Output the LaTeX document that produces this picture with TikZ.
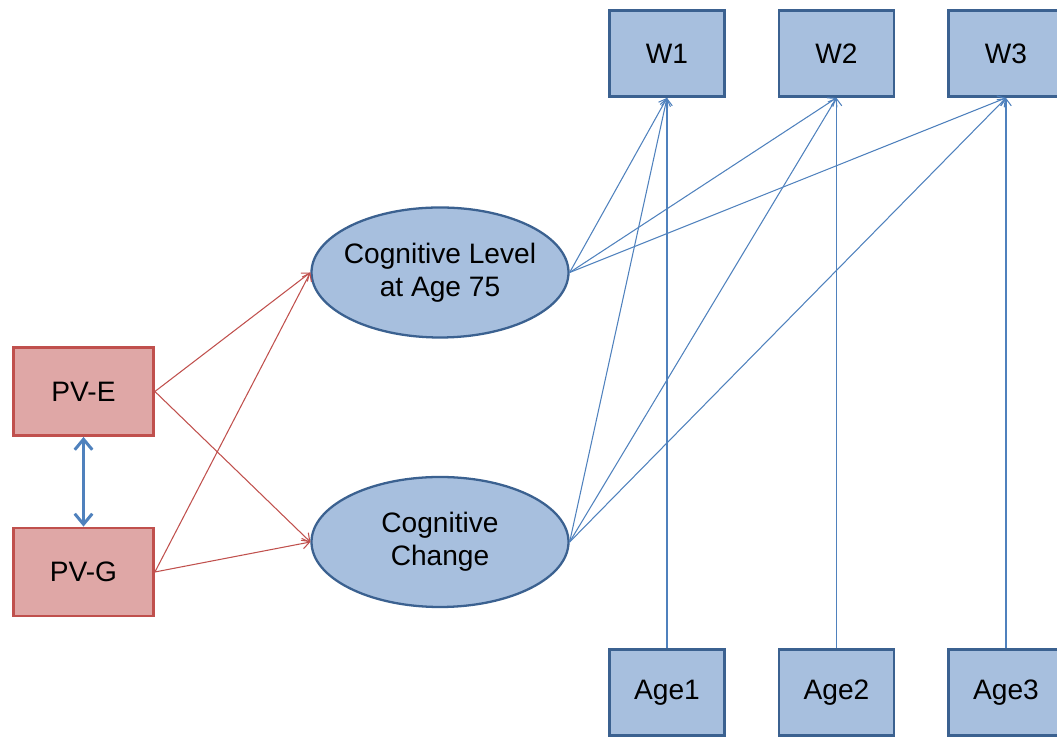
\documentclass[tikz,border=0pt]{standalone}
\usepackage{fontspec}
\setmainfont{Liberation Sans}
\usetikzlibrary{arrows.meta,positioning,shapes.geometric}
\definecolor{boxfill}{HTML}{A7BFDE}
\definecolor{boxline}{HTML}{3B6190}
\definecolor{pvfill}{HTML}{DFA7A6}
\definecolor{pvline}{HTML}{C0504D}
\definecolor{pathblue}{HTML}{4F81BD}

\begin{document}
\begin{tikzpicture}[node distance= 3.39cm,
    font=\fontsize{16}{18.7}\selectfont,
    >={Straight Barb[length=4pt,width=6pt]}]
      \clip (0,0) rectangle (21.14,14.76);
      % measured variables
      \begin{scope}[every node/.style={rectangle,draw= boxline,fill= boxfill,
          line width=1.6pt,minimum width=2.3cm,minimum height=1.72cm}]
        \node (W1) at (13.34,13.69) {W1};
        \node (W2) [right of= W1] {W2};
        \node (W3) [right of= W2] {W3};
        \node (A1) at (13.34,0.91) {Age1};
        \node (A2) [right of= A1] {Age2};
        \node (A3) [right of= A2] {Age3};
      \end{scope}
      \begin{scope}[every node/.style={rectangle,draw= pvline,fill= pvfill,
          line width=1.6pt,minimum width=2.8cm,minimum height=1.76cm}]
        \node (PVE) at (1.67,6.93) {PV-E};
        \node (PVG) [below of= PVE,node distance= 3.61cm] {PV-G};
      \end{scope}
      % latent factors
      \begin{scope}[every node/.style={ellipse,draw= boxline,fill= boxfill,
          line width=1.3pt,minimum width=5.14cm,minimum height=2.6cm,
          inner xsep=-0.3cm,align=center}]
        \node (CL) at (8.8,9.31) {Cognitive Level\\at Age 75};
        \node (CC) [below of= CL,node distance= 5.39cm] {Cognitive\\Change};
      \end{scope}
      \begin{scope}
        [every edge/.style={draw= pathblue, line width=0.6pt,->}]
        \path (CL.east) edge (W1.south);
        \path (CL.east) edge (W2.south);
        \path (CL.east) edge (W3.south);
        \path (CC.east) edge (W1.south);
        \path (CC.east) edge (W2.south);
        \path (CC.east) edge (W3.south);
        \path (A1) edge (W1);
        \path (A2) edge (W2);
        \path (A3) edge (W3);
      \end{scope}
      \begin{scope}
        [every edge/.style={draw= pvline, line width=0.6pt,->}]
        \path (PVE.east) edge (CL.west);
        \path (PVE.east) edge (CC.west);
        \path (PVG.east) edge (CL.west);
        \path (PVG.east) edge (CC.west);
      \end{scope}
      \path (PVE) edge[draw= pathblue,line width=1.7pt,
        {Straight Barb[length=6pt,width=10pt]}-{Straight Barb[length=6pt,width=10pt]}] (PVG);
    \end{tikzpicture}
\end{document}
